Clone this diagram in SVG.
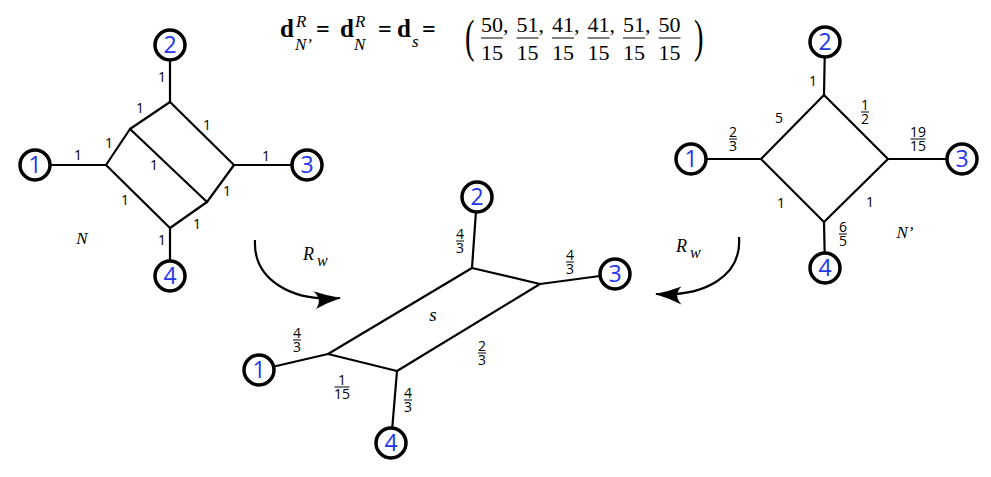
<svg xmlns="http://www.w3.org/2000/svg" width="991" height="477" viewBox="0 0 991 477">
<style>
.e{stroke:#000;stroke-width:2.2;fill:none;stroke-linecap:round;stroke-linejoin:round}
.nd circle{fill:#fff;stroke:#000;stroke-width:3.5}
.nd text{font-family:"Open Sans","Liberation Sans",sans-serif;font-size:23px;fill:#2336ee;text-anchor:middle}
.lb{font-family:"Open Sans","Liberation Sans",sans-serif;font-size:14px;fill:#000;text-anchor:middle}
.fb{stroke:#000;stroke-width:1}
.it{font-family:"Liberation Serif",serif;font-style:italic;fill:#000}
.fm{font-family:"Liberation Serif",serif;fill:#000}
.bf{font-weight:bold}
.arc{stroke:#000;stroke-width:2.2;fill:none}
</style>
<defs>
<marker id="ah" viewBox="-30 -12 32 24" markerWidth="32" markerHeight="24" refX="0" refY="0" orient="auto" markerUnits="userSpaceOnUse">
<path d="M1,0 Q-12,-3 -26,-9 Q-17,0 -25,9 Q-12,3 1,0 Z" fill="#000"/>
</marker>
</defs>
<rect width="991" height="477" fill="#fff"/>

<g id="formula">
<text class="fm bf" x="280" y="37" font-size="25">d</text>
<text class="it" x="296" y="27" font-size="17">R</text>
<text class="it" x="295" y="50" font-size="17">N’</text>
<text class="fm bf" x="316" y="37" font-size="24">=</text>
<text class="fm bf" x="340" y="37" font-size="25">d</text>
<text class="it" x="355" y="27" font-size="17">R</text>
<text class="it" x="354" y="50" font-size="17">N</text>
<text class="fm bf" x="378" y="37" font-size="24">=</text>
<text class="fm bf" x="397" y="37" font-size="25">d</text>
<text class="it" x="412" y="47" font-size="17">s</text>
<text class="fm bf" x="422" y="37" font-size="24">=</text>
<text class="fm" transform="translate(465,52) scale(0.62,1)" font-size="46">(</text>
<g class="fm" font-size="22" text-anchor="middle">
<text x="492" y="32">50</text><text x="492" y="59.5">15</text>
<text x="527.5" y="32">51</text><text x="527.5" y="59.5">15</text>
<text x="563" y="32">41</text><text x="563" y="59.5">15</text>
<text x="598.5" y="32">41</text><text x="598.5" y="59.5">15</text>
<text x="634" y="32">51</text><text x="634" y="59.5">15</text>
<text x="669.5" y="32">50</text><text x="669.5" y="59.5">15</text>
</g>
<g class="fm" font-size="22">
<text x="503" y="32">,</text><text x="538.5" y="32">,</text><text x="574" y="32">,</text><text x="609.5" y="32">,</text><text x="645" y="32">,</text>
</g>
<g class="fb">
<line x1="481" y1="38" x2="503" y2="38"/><line x1="516.5" y1="38" x2="538.5" y2="38"/><line x1="552" y1="38" x2="574" y2="38"/>
<line x1="587.5" y1="38" x2="609.5" y2="38"/><line x1="623" y1="38" x2="645" y2="38"/><line x1="658.5" y1="38" x2="680.5" y2="38"/>
</g>
<text class="fm" transform="translate(694,52) scale(0.62,1)" font-size="46">)</text>
</g>

<g id="connectors">
<!-- N -->
<path class="e" d="M106,165 L130,129 L170,102 L234,165 L207,202 L170,228 Z"/>
<path class="e" d="M35,165 L106,165 M130,129 L207,202 M234,165 L307,165 M170,102 L170,45 M170,228 L170,276"/>
<!-- N' -->
<path class="e" d="M761,159 L824,95 L888,159 L824,222 Z"/>
<path class="e" d="M691,159 L761,159 M824,95 L825,42 M888,159 L962,159 M824,222 L825,268"/>
<!-- s -->
<path class="e" d="M328,354 L472,268 L540,284 L397,371 Z"/>
<path class="e" d="M472,268 L477,197 M540,284 L615,274 M328,354 L259,370 M397,371 L391,443"/>
<!-- R_w arrows -->
<path class="arc" d="M255,240 C253,280 292,302 340,298" marker-end="url(#ah)"/>
<path class="arc" d="M739,237 C742,276 705,297 656,294" marker-end="url(#ah)"/>
</g>

<g id="N-node-1" class="nd"><circle cx="35" cy="165" r="15"/><text x="35" y="173">1</text></g>
<g id="N-node-2" class="nd"><circle cx="170" cy="45" r="15"/><text x="170" y="53">2</text></g>
<g id="N-node-3" class="nd"><circle cx="307" cy="165" r="15"/><text x="307" y="173">3</text></g>
<g id="N-node-4" class="nd"><circle cx="170" cy="276" r="15"/><text x="170" y="284">4</text></g>

<g id="Np-node-1" class="nd"><circle cx="691" cy="159" r="15"/><text x="691" y="167">1</text></g>
<g id="Np-node-2" class="nd"><circle cx="825" cy="42" r="15"/><text x="825" y="50">2</text></g>
<g id="Np-node-3" class="nd"><circle cx="962" cy="159" r="15"/><text x="962" y="167">3</text></g>
<g id="Np-node-4" class="nd"><circle cx="825" cy="268" r="15"/><text x="825" y="276">4</text></g>

<g id="s-node-1" class="nd"><circle cx="259" cy="370" r="15"/><text x="259" y="378">1</text></g>
<g id="s-node-2" class="nd"><circle cx="477" cy="197" r="15"/><text x="477" y="205">2</text></g>
<g id="s-node-3" class="nd"><circle cx="615" cy="274" r="15"/><text x="615" y="282">3</text></g>
<g id="s-node-4" class="nd"><circle cx="391" cy="443" r="15"/><text x="391" y="451">4</text></g>

<g id="labels-N" class="lb">
<text x="78" y="160">1</text>
<text x="162" y="82">1</text>
<text x="140" y="113">1</text>
<text x="207" y="130">1</text>
<text x="109" y="148">1</text>
<text x="154" y="170">1</text>
<text x="266" y="161">1</text>
<text x="227" y="196">1</text>
<text x="125" y="205">1</text>
<text x="197" y="229">1</text>
<text x="162" y="245">1</text>
</g>
<text class="it" x="82" y="244" font-size="17" text-anchor="middle">N</text>

<g id="labels-Np" class="lb">
<text x="813" y="86">1</text>
<text x="779" y="123">5</text>
<text x="781" y="208">1</text>
<text x="870" y="207">1</text>
<text x="733" y="137">2</text><text x="733" y="151">3</text>
<text x="865" y="110">1</text><text x="865" y="124">2</text>
<text x="918" y="137">19</text><text x="918" y="151">15</text>
<text x="843" y="232">6</text><text x="843" y="246">5</text>
</g>
<g class="fb">
<line x1="729" y1="139" x2="737" y2="139"/>
<line x1="861" y1="112" x2="869" y2="112"/>
<line x1="910.5" y1="139" x2="925.5" y2="139"/>
<line x1="839" y1="234" x2="847" y2="234"/>
</g>
<text class="it" x="905" y="238" font-size="17" text-anchor="middle">N’</text>

<g id="labels-s" class="lb">
<text x="460" y="239">4</text><text x="460" y="253">3</text>
<text x="570" y="260">4</text><text x="570" y="274">3</text>
<text x="297" y="338">4</text><text x="297" y="352">3</text>
<text x="482" y="351">2</text><text x="482" y="365">3</text>
<text x="342" y="385">1</text><text x="342" y="399">15</text>
<text x="408" y="398">4</text><text x="408" y="412">3</text>
</g>
<g class="fb">
<line x1="456" y1="241" x2="464" y2="241"/>
<line x1="566" y1="262" x2="574" y2="262"/>
<line x1="293" y1="340" x2="301" y2="340"/>
<line x1="478" y1="353" x2="486" y2="353"/>
<line x1="334.5" y1="387" x2="349.5" y2="387"/>
<line x1="404" y1="400" x2="412" y2="400"/>
</g>
<text class="it" x="433" y="321" font-size="19" text-anchor="middle">s</text>

<g id="Rw-left"><text class="it" x="303" y="260" font-size="18">R</text><text class="it" x="317" y="266" font-size="16">w</text></g>
<g id="Rw-right"><text class="it" x="676" y="252" font-size="18">R</text><text class="it" x="690" y="258" font-size="16">w</text></g>
</svg>
